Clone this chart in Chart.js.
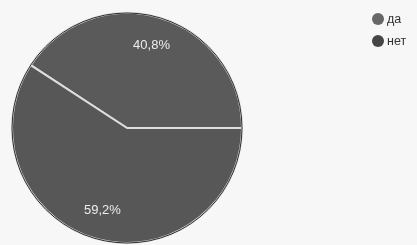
<!DOCTYPE html>
<html>
<head>
<meta charset="utf-8">
<script src="https://cdn.jsdelivr.net/npm/chart.js@4/dist/chart.umd.min.js"></script>
<style>
  html, body { margin: 0; padding: 0; background: #f7f7f7; }
  #wrap { position: relative; width: 417px; height: 245px; }
  #legend { position: absolute; left: 372px; top: 11px; font: 12.5px "Liberation Sans", Arial, sans-serif; color: #333; }
  #legend div { height: 22px; line-height: 16px; white-space: nowrap; }
  #legend span { display: inline-block; width: 12px; height: 12px; border-radius: 50%; vertical-align: -2px; margin-right: 3px; }
</style>
</head>
<body>
<div id="wrap">
  <canvas id="myChart" width="417" height="245"></canvas>
  <div id="legend"></div>
</div>
<script>
const labels = ['да', 'нет']
const values = [40.8, 59.2]
const colors = ['#5a5a5a', '#575757']
const legendColors = ['#676767', '#454545']

// legend in html
const legend = document.querySelector('#legend')
labels.forEach((l, i) => {
  const row = document.createElement('div')
  row.innerHTML = '<span style="background:' + legendColors[i] + '"></span>' + l
  legend.appendChild(row)
})

// percent labels + dark rim
const pieExtras = {
  id: 'pieExtras',
  afterDatasetsDraw(chart) {
    const ctx = chart.ctx
    const meta = chart.getDatasetMeta(0)
    const first = meta.data[0]
    ctx.save()
    ctx.beginPath()
    ctx.arc(first.x, first.y, first.outerRadius, 0, Math.PI * 2)
    ctx.strokeStyle = '#2e2e2e'
    ctx.lineWidth = 1
    ctx.stroke()

    ctx.fillStyle = '#ececec'
    ctx.font = '13px "Liberation Sans", Arial, sans-serif'
    ctx.textAlign = 'center'
    ctx.textBaseline = 'middle'
    meta.data.forEach((arc, i) => {
      const mid = (arc.startAngle + arc.endAngle) / 2
      const r = arc.outerRadius * 0.75
      const x = arc.x + Math.cos(mid) * r
      const y = arc.y + Math.sin(mid) * r
      ctx.fillText(values[i].toFixed(1).replace('.', ',') + '%', x, y)
    })
    ctx.restore()
  }
}

const myChart = new Chart('myChart', {
  type: 'pie',
  data: {
    labels: labels,
    datasets: [{
      data: values,
      backgroundColor: colors,
      borderColor: '#dedede',
      borderWidth: 2,
    }],
  },
  options: {
    responsive: false,
    animation: false,
    rotation: -56.9,
    layout: { padding: { left: 11, top: 11, right: 174, bottom: 0 } },
    plugins: {
      legend: { display: false },
      tooltip: { enabled: false },
    },
  },
  plugins: [pieExtras],
})
</script>
</body>
</html>
